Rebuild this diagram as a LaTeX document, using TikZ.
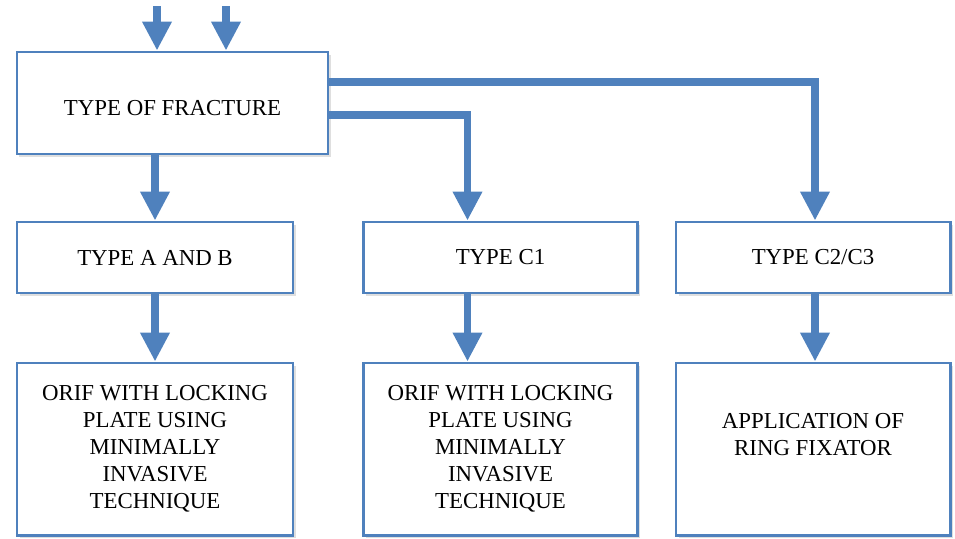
\documentclass[tikz,border=0pt]{standalone}
\usepackage{fontspec}
\setmainfont{Liberation Serif}
\usetikzlibrary{calc,arrows.meta,shadows}
\definecolor{boxblue}{RGB}{79,129,189}

\begin{document}
\begin{tikzpicture}[
        box/.style={draw=boxblue, line width=1.7pt, fill=white, align=center, inner sep=0pt,
            font=\fontsize{13pt}{15.4pt}\selectfont,
            drop shadow={shadow xshift=0.05cm, shadow yshift=-0.06cm, opacity=0.25}},
        boxtext/.style={align=center, inner sep=0pt, font=\fontsize{13pt}{15.4pt}\selectfont},
        flow/.style={draw=boxblue, line width=4pt, -{Triangle[length=0.58cm,width=0.56cm]}}
    ]
    \useasboundingbox (0,0) rectangle (19.1,-10.76);
    \node[box, minimum width=6.22cm, minimum height=2.04cm] (fracture) at (3.45,-2.06) {};
    \node[boxtext] (fracturetext) at ([yshift=-0.1cm]fracture.center) {TYPE OF FRACTURE};
    \node[box, minimum width=5.52cm, minimum height=1.42cm] (typeab) at (3.1,-5.15) {TYPE A AND B};
    \node[box, minimum width=5.48cm, minimum height=1.42cm] (typec1) at (10.01,-5.15) {TYPE C1};
    \node[box, minimum width=5.48cm, minimum height=1.42cm] (typec23) at (16.26,-5.15) {TYPE C2/C3};
    \node[box, minimum width=5.52cm, minimum height=3.44cm] (orif1) at (3.1,-8.98)
        {ORIF WITH LOCKING\\PLATE USING\\MINIMALLY\\INVASIVE\\TECHNIQUE};
    \node[box, minimum width=5.48cm, minimum height=3.44cm] (orif2) at (10.01,-8.98)
        {ORIF WITH LOCKING\\PLATE USING\\MINIMALLY\\INVASIVE\\TECHNIQUE};
    \node[box, minimum width=5.48cm, minimum height=3.44cm] (ring) at (16.26,-8.98) {};
    \node[boxtext] (ringtext) at ([yshift=0.28cm]ring.center) {APPLICATION OF\\RING FIXATOR};

    \coordinate (in1) at (3.14,-0.12);
    \coordinate (in2) at (4.52,-0.12);
    \draw[flow] (in1) -- (in1 |- fracture.north);
    \draw[flow] (in2) -- (in2 |- fracture.north);
    \draw[flow] (fracture.south -| typeab.north) -- (typeab.north);
    \draw[flow] ([yshift=-0.24cm]fracture.east) -| ([xshift=-0.66cm]typec1.north);
    \draw[flow] ([yshift=0.42cm]fracture.east) -| ([xshift=0.04cm]typec23.north);
    \draw[flow] (typeab.south) -- (orif1.north);
    \draw[flow] ([xshift=-0.66cm]typec1.south) -- ([xshift=-0.66cm]orif2.north);
    \draw[flow] ([xshift=0.04cm]typec23.south) -- ([xshift=0.04cm]ring.north);
\end{tikzpicture}
\end{document}
